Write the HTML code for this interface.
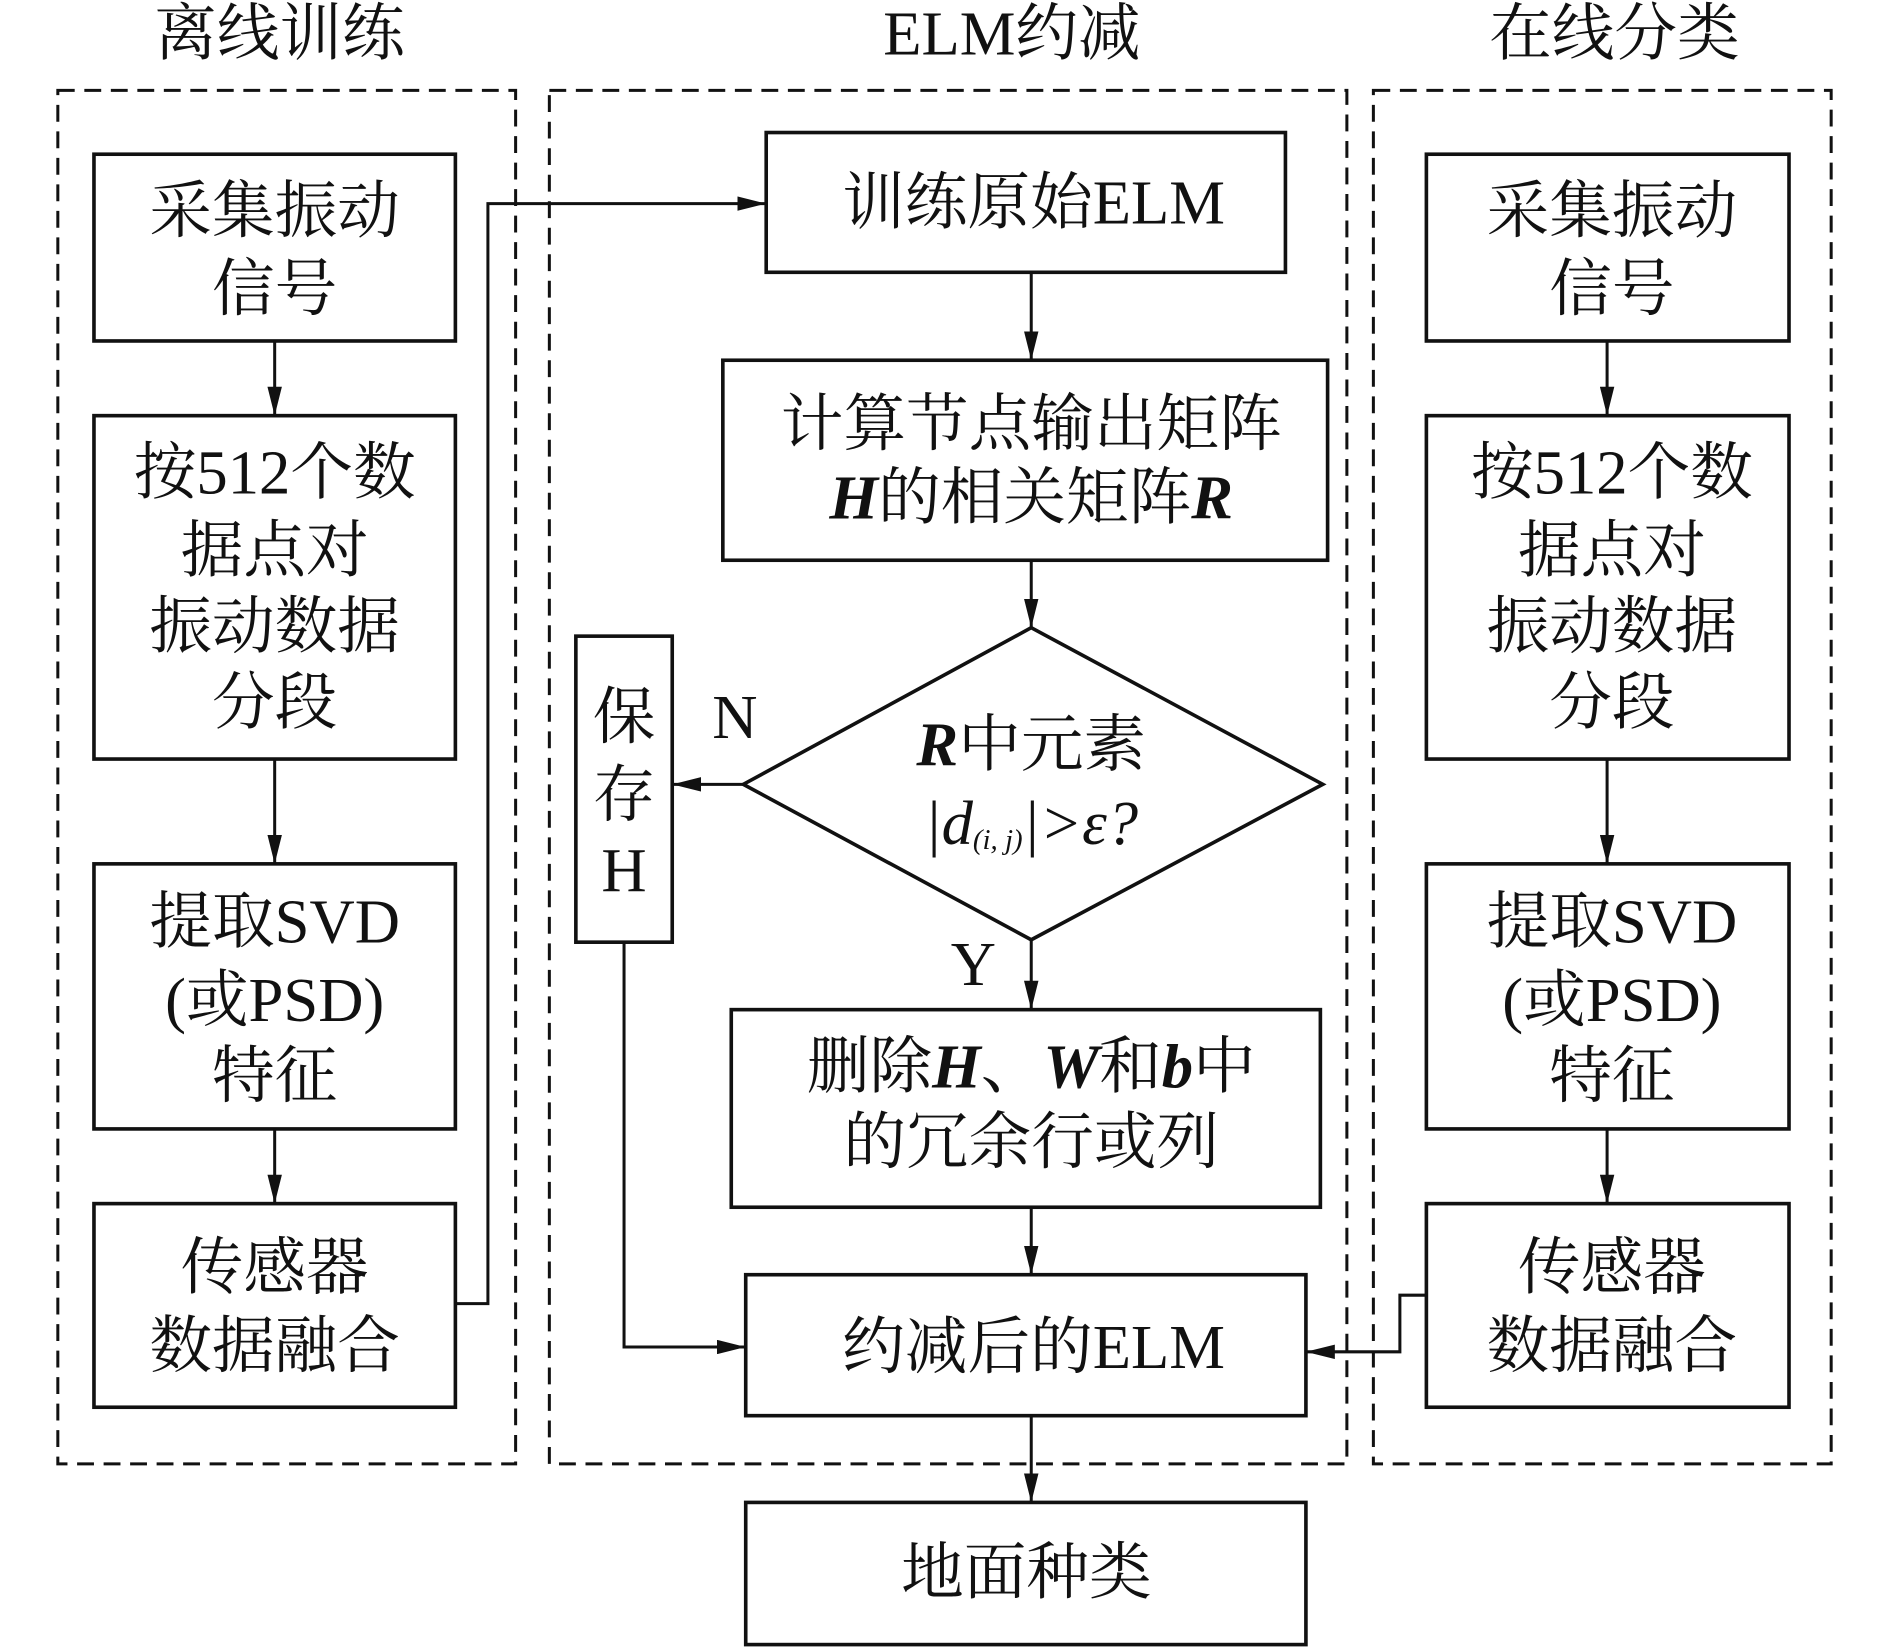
<!DOCTYPE html>
<html><head><meta charset="utf-8"><style>
html,body{margin:0;padding:0;background:#fff;}
svg{display:block;}
text{font-family:"Liberation Serif","Noto Serif CJK SC",serif;font-size:52px;fill:#111;text-anchor:middle;dominant-baseline:central;}
.b{font-weight:bold;font-style:italic;}
</style></head><body>
<svg width="1889" height="1647" viewBox="0 0 1568 1367" preserveAspectRatio="none" xmlns="http://www.w3.org/2000/svg">
<defs>
<marker id="a2" viewBox="0 0 24 12" markerWidth="24" markerHeight="12" refX="24" refY="6" orient="auto" markerUnits="userSpaceOnUse"><path d="M0,0 L24,6 L0,12 Z" fill="#111"/></marker></defs>
<g fill="none" stroke="#111" stroke-width="3">
<g stroke-dasharray="14,8" stroke-width="2.5">
<rect x="48" y="75" width="380" height="1140"/>
<rect x="456" y="75" width="662" height="1140"/>
<rect x="1140" y="75" width="380" height="1140"/>
</g>
<rect x="78" y="128" width="300" height="155"/>
<rect x="78" y="345" width="300" height="285"/>
<rect x="78" y="717" width="300" height="220"/>
<rect x="78" y="999" width="300" height="169"/>
<rect x="1184" y="128" width="301" height="155"/>
<rect x="1184" y="345" width="301" height="285"/>
<rect x="1184" y="717" width="301" height="220"/>
<rect x="1184" y="999" width="301" height="169"/>
<rect x="636" y="110" width="431" height="116"/>
<rect x="600" y="299" width="502" height="166"/>
<polygon points="856,521 1098,651 856,780 617,651"/>
<rect x="478" y="528" width="80" height="254"/>
<rect x="607" y="838" width="489" height="164"/>
<rect x="619" y="1058" width="465" height="117"/>
<rect x="619" y="1247" width="465" height="118"/>
<g stroke-width="2.5" marker-end="url(#a2)">
<path d="M228,283 V345"/><path d="M228,630 V717"/><path d="M228,937 V999"/>
<path d="M1334,283 V345"/><path d="M1334,630 V717"/><path d="M1334,937 V999"/>
<path d="M378,1082 H405 V169 H636"/>
<path d="M856,226 V299"/><path d="M856,465 V521"/><path d="M856,780 V838"/><path d="M856,1002 V1058"/><path d="M856,1175 V1247"/>
<path d="M617,651 H558"/>
<path d="M518,782 V1118 H619"/>
<path d="M1184,1075 H1162 V1122 H1084"/>
</g>
</g>
<text x="232" y="28" font-size="50">离线训练</text>
<text x="840" y="28" font-size="50">ELM约减</text>
<text x="1340" y="28" font-size="50">在线分类</text>
<text x="228" y="175">采集振动</text><text x="228" y="240">信号</text>
<text x="228" y="392">按512个数</text><text x="228" y="457">据点对</text><text x="228" y="520">振动数据</text><text x="228" y="583">分段</text>
<text x="228" y="765">提取SVD</text><text x="228" y="830">(或PSD)</text><text x="228" y="893">特征</text>
<text x="228" y="1052">传感器</text><text x="228" y="1117">数据融合</text>
<text x="1338" y="175">采集振动</text><text x="1338" y="240">信号</text>
<text x="1338" y="392">按512个数</text><text x="1338" y="457">据点对</text><text x="1338" y="520">振动数据</text><text x="1338" y="583">分段</text>
<text x="1338" y="765">提取SVD</text><text x="1338" y="830">(或PSD)</text><text x="1338" y="893">特征</text>
<text x="1338" y="1052">传感器</text><text x="1338" y="1117">数据融合</text>
<text x="858" y="168">训练原始ELM</text>
<text x="856" y="352">计算节点输出矩阵</text>
<text x="856" y="413"><tspan class="b">H</tspan>的相关矩阵<tspan class="b">R</tspan></text>
<text x="856" y="618"><tspan class="b">R</tspan>中元素</text>
<text x="856" y="683" font-style="italic">|d<tspan font-size="24" dy="14">(i, j)</tspan><tspan dy="-14">|&gt;ε?</tspan></text>
<text x="518" y="595">保</text><text x="518" y="660">存</text><text x="518" y="722">H</text>
<text x="610" y="595" font-size="46">N</text>
<text x="808" y="800" font-size="46">Y</text>
<text x="856" y="885">删除<tspan class="b">H</tspan>、<tspan class="b">W</tspan>和<tspan class="b">b</tspan>中</text>
<text x="856" y="948">的冗余行或列</text>
<text x="858" y="1118">约减后的ELM</text>
<text x="852" y="1305">地面种类</text>
</svg>
</body></html>
